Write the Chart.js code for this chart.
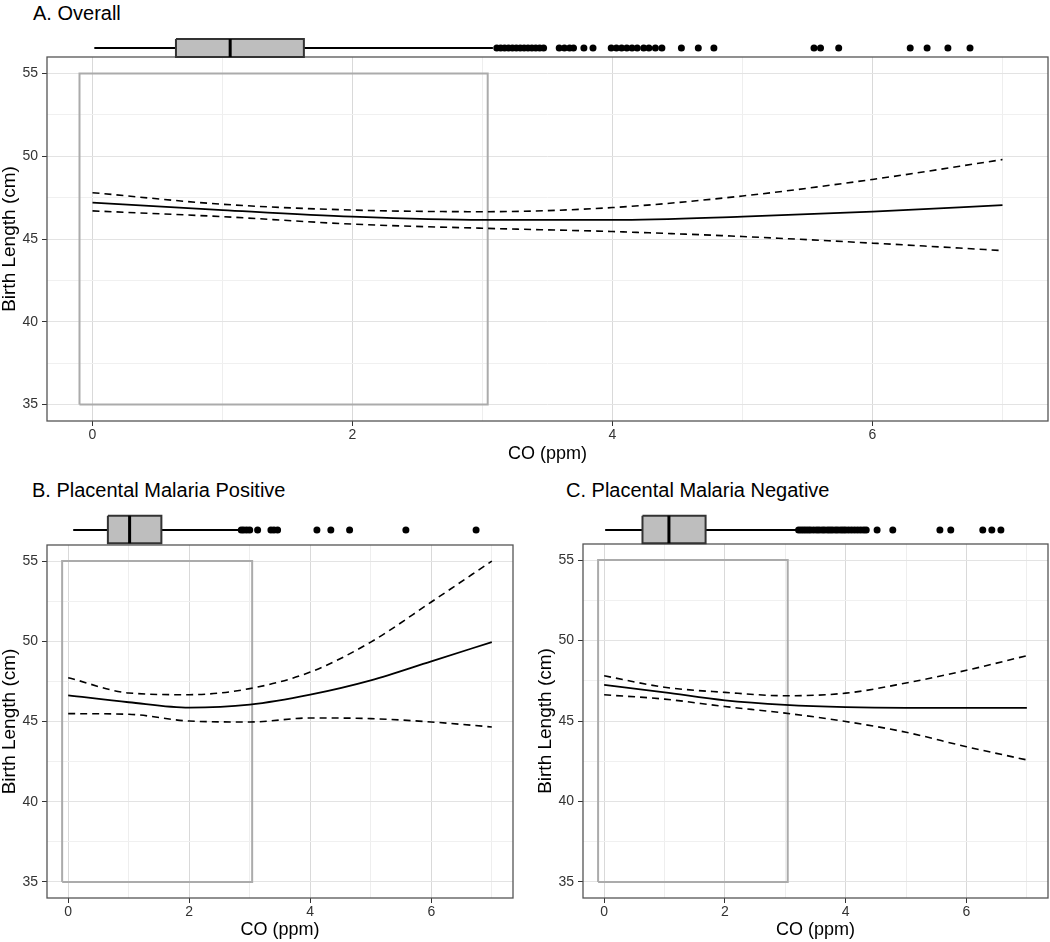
<!DOCTYPE html>
<html>
<head>
<meta charset="utf-8">
<script src="https://cdn.jsdelivr.net/npm/chart.js@4.4.1/dist/chart.umd.min.js"></script>
<style>
  body { margin: 0; background: #fff; }
  #page { position: relative; width: 1050px; height: 942px; overflow: hidden;
          font-family: "Liberation Sans", Arial, sans-serif; background: #fff; }
  canvas { position: absolute; }
  .ptitle { position: absolute; font-size: 20px; line-height: 1; color: #000; white-space: nowrap; }
</style>
</head>
<body>
<div id="page">
  <div class="ptitle" style="left:33px;top:3px">A. Overall</div>
  <div class="ptitle" style="left:32px;top:480px">B. Placental Malaria Positive</div>
  <div class="ptitle" style="left:566px;top:480px">C. Placental Malaria Negative</div>

  <canvas id="mainA" width="1050" height="470" style="left:0;top:0"></canvas>
  <canvas id="mainB" width="525" height="462" style="left:0;top:480px"></canvas>
  <canvas id="mainC" width="525" height="462" style="left:525px;top:480px"></canvas>

  <canvas id="stripA" width="1001" height="24" style="left:47px;top:36px"></canvas>
  <canvas id="stripB" width="466" height="42" style="left:47px;top:505px"></canvas>
  <canvas id="stripC" width="465" height="42" style="left:583px;top:505px"></canvas>
</div>
<script>
Chart.defaults.font.family = '"Liberation Sans", Arial, sans-serif';
Chart.defaults.animation = false;

// x positions (CO, ppm) where the curves were read
const coGrid = [0, 1, 2, 3, 4, 5, 6, 7];
const xTicks = [0, 1, 2, 3, 4, 5, 6, 7];
const xLabels = [0, 2, 4, 6];
const yTicks = [35, 37.5, 40, 42.5, 45, 47.5, 50, 52.5, 55];
const yLabels = [35, 40, 45, 50, 55];

// grey reference rectangle
const refBoxX = [-0.1, -0.1, 3.04, 3.04, -0.1];
const refBoxY = [35, 55, 55, 35, 35];

// A. Overall
const fitA   = [47.2, 46.75, 46.35, 46.15, 46.15, 46.35, 46.65, 47.05];
const upperA = [47.8, 47.1, 46.75, 46.65, 46.9, 47.6, 48.6, 49.8];
const lowerA = [46.7, 46.35, 45.9, 45.65, 45.45, 45.15, 44.75, 44.3];

// B. Placental Malaria Positive
const fitB   = [46.63, 46.2, 45.86, 46.05, 46.67, 47.56, 48.75, 49.95];
const upperB = [47.73, 46.78, 46.67, 47.05, 48.08, 49.95, 52.45, 55.0];
const lowerB = [45.49, 45.45, 45.03, 44.97, 45.22, 45.18, 44.97, 44.66];

// C. Placental Malaria Negative
const fitC   = [47.25, 46.78, 46.28, 46.0, 45.86, 45.82, 45.82, 45.82];
const upperC = [47.81, 47.1, 46.78, 46.57, 46.73, 47.36, 48.15, 49.06];
const lowerC = [46.63, 46.36, 45.9, 45.49, 44.97, 44.3, 43.4, 42.58];

// boxplot stats: whisker low, q1, median, q3, whisker high
const boxStatsA = [0.014, 0.642, 1.059, 1.626, 3.08];
const outliersA = [3.11, 3.14, 3.17, 3.2, 3.23, 3.26, 3.29, 3.32, 3.35, 3.38, 3.41, 3.44, 3.47,
                   3.59, 3.63, 3.67, 3.7, 3.78, 3.85,
                   3.99, 4.03, 4.07, 4.11, 4.15, 4.19, 4.24, 4.28, 4.33, 4.38,
                   4.53, 4.66, 4.78, 5.55, 5.6, 5.74, 6.29, 6.42, 6.58, 6.75];
const boxStatsB = [0.083, 0.656, 1.015, 1.54, 2.82];
const outliersB = [2.86, 2.9, 2.95, 3.0, 3.13, 3.35, 3.4, 3.46, 4.11, 4.34, 4.65, 5.58, 6.74];
const boxStatsC = [0.017, 0.635, 1.073, 1.68, 3.18];
const outliersC = [3.22, 3.26, 3.3, 3.34, 3.38, 3.42, 3.47, 3.52, 3.56, 3.61, 3.65, 3.7, 3.74,
                   3.78, 3.83, 3.87, 3.92, 3.96, 4.0, 4.05, 4.1, 4.15, 4.2, 4.25, 4.3, 4.34,
                   4.52, 4.78, 5.56, 5.74, 6.27, 6.42, 6.57];

const pts = (xs, ys) => xs.map((x, i) => ({x: x, y: ys[i]}));

const framePlugin = {
  id: 'frame',
  afterDraw(chart) {
    const a = chart.chartArea, c = chart.ctx;
    c.save();
    c.strokeStyle = '#555';
    c.lineWidth = 1.3;
    c.strokeRect(a.left, a.top, a.right - a.left, a.bottom - a.top);
    c.restore();
  }
};

function makePanel(id, fit, upper, lower, lay) {
  const curve = (data, dash, w) => ({
    data: pts(coGrid, data), borderColor: '#000', borderWidth: w, borderDash: dash,
    pointRadius: 0, cubicInterpolationMode: 'monotone', fill: false
  });
  return new Chart(document.getElementById(id), {
    type: 'line',
    data: {
      datasets: [
        curve(fit, [], 1.8),
        curve(upper, [7, 5], 1.6),
        curve(lower, [7, 5], 1.6),
        { data: pts(refBoxX, refBoxY), borderColor: '#ababab', borderWidth: 2,
          pointRadius: 0, tension: 0, fill: false }
      ]
    },
    options: {
      responsive: false,
      animation: false,
      layout: { padding: lay.padding },
      plugins: { legend: { display: false }, tooltip: { enabled: false } },
      scales: {
        x: {
          type: 'linear', min: -0.35, max: 7.35,
          afterBuildTicks: s => { s.ticks = xTicks.map(v => ({value: v})); },
          afterFit: s => { s.height = lay.xh; },
          border: { display: false },
          grid: {
            color: ctx => xLabels.includes(ctx.tick.value) ? '#d9d9d9' : '#eeeeee',
            lineWidth: 1, tickLength: 5,
            tickColor: ctx => xLabels.includes(ctx.tick.value) ? '#333' : 'rgba(0,0,0,0)'
          },
          ticks: {
            autoSkip: false, maxRotation: 0, padding: 1, color: '#333', font: { size: 14 },
            callback: v => xLabels.includes(v) ? String(v) : ''
          },
          title: { display: true, text: 'CO (ppm)', color: '#000',
                   font: { size: 18, lineHeight: 1 }, padding: { top: 0, bottom: lay.xtp } }
        },
        y: {
          type: 'linear', min: 34, max: 56,
          afterBuildTicks: s => { s.ticks = yTicks.map(v => ({value: v})); },
          afterFit: s => { s.width = lay.yw; },
          border: { display: false },
          grid: {
            color: ctx => yLabels.includes(ctx.tick.value) ? '#e3e3e3' : '#f0f0f0',
            lineWidth: 1, tickLength: 5,
            tickColor: ctx => yLabels.includes(ctx.tick.value) ? '#333' : 'rgba(0,0,0,0)'
          },
          ticks: {
            autoSkip: false, padding: 4, color: '#333', font: { size: 14 },
            callback: v => yLabels.includes(v) ? String(v) : ''
          },
          title: { display: true, text: 'Birth Length (cm)', color: '#000',
                   font: { size: 19, lineHeight: 1 }, padding: { top: lay.ytp, bottom: 0 } }
        }
      }
    },
    plugins: [framePlugin]
  });
}

function makeStrip(id, stats, outliers, h, top, bottom, mid) {
  const lo = stats[0], q1 = stats[1], med = stats[2], q3 = stats[3], hi = stats[4];
  const seg = (data, color, w) => ({ data: data, borderColor: color, borderWidth: w,
                                     pointRadius: 0, tension: 0, fill: false });
  return new Chart(document.getElementById(id), {
    type: 'line',
    data: {
      datasets: [
        seg([{x: med, y: top}, {x: med, y: bottom}], '#000', 3),
        seg([{x: q1, y: top}, {x: q3, y: top}, {x: q3, y: bottom}, {x: q1, y: bottom}, {x: q1, y: top}], '#333', 2),
        seg([{x: lo, y: mid}, {x: q1, y: mid}], '#000', 2),
        seg([{x: q3, y: mid}, {x: hi, y: mid}], '#000', 2),
        { data: outliers.map(v => ({x: v, y: mid})), showLine: false, pointRadius: 3.5,
          pointBackgroundColor: '#000', pointBorderWidth: 0 },
        { data: [{x: q1, y: top}, {x: q3, y: top}], borderWidth: 0, pointRadius: 0,
          fill: '+1', backgroundColor: '#bebebe' },
        { data: [{x: q1, y: bottom}, {x: q3, y: bottom}], borderWidth: 0, pointRadius: 0, fill: false }
      ]
    },
    options: {
      responsive: false,
      animation: false,
      layout: { padding: 0, autoPadding: false },
      plugins: { legend: { display: false }, tooltip: { enabled: false } },
      scales: {
        x: { type: 'linear', min: -0.35, max: 7.35, display: false },
        y: { type: 'linear', min: 0, max: h, reverse: true, display: false }
      }
    }
  });
}

makePanel('mainA', fitA, upperA, lowerA,
  { padding: { top: 57, right: 2, left: 0, bottom: 0 }, yw: 47, xh: 49, ytp: 0, xtp: 7 });
makePanel('mainB', fitB, upperB, lowerB,
  { padding: { top: 65, right: 12, left: 0, bottom: 0 }, yw: 47, xh: 44, ytp: 0, xtp: 3 });
makePanel('mainC', fitC, upperC, lowerC,
  { padding: { top: 64, right: 2, left: 0, bottom: 0 }, yw: 58, xh: 44, ytp: 11, xtp: 3 });

makeStrip('stripA', boxStatsA, outliersA, 24, 3, 21, 12);
makeStrip('stripB', boxStatsB, outliersB, 42, 10.7, 38.3, 25);
makeStrip('stripC', boxStatsC, outliersC, 42, 10.7, 38.3, 25);
</script>
</body>
</html>
